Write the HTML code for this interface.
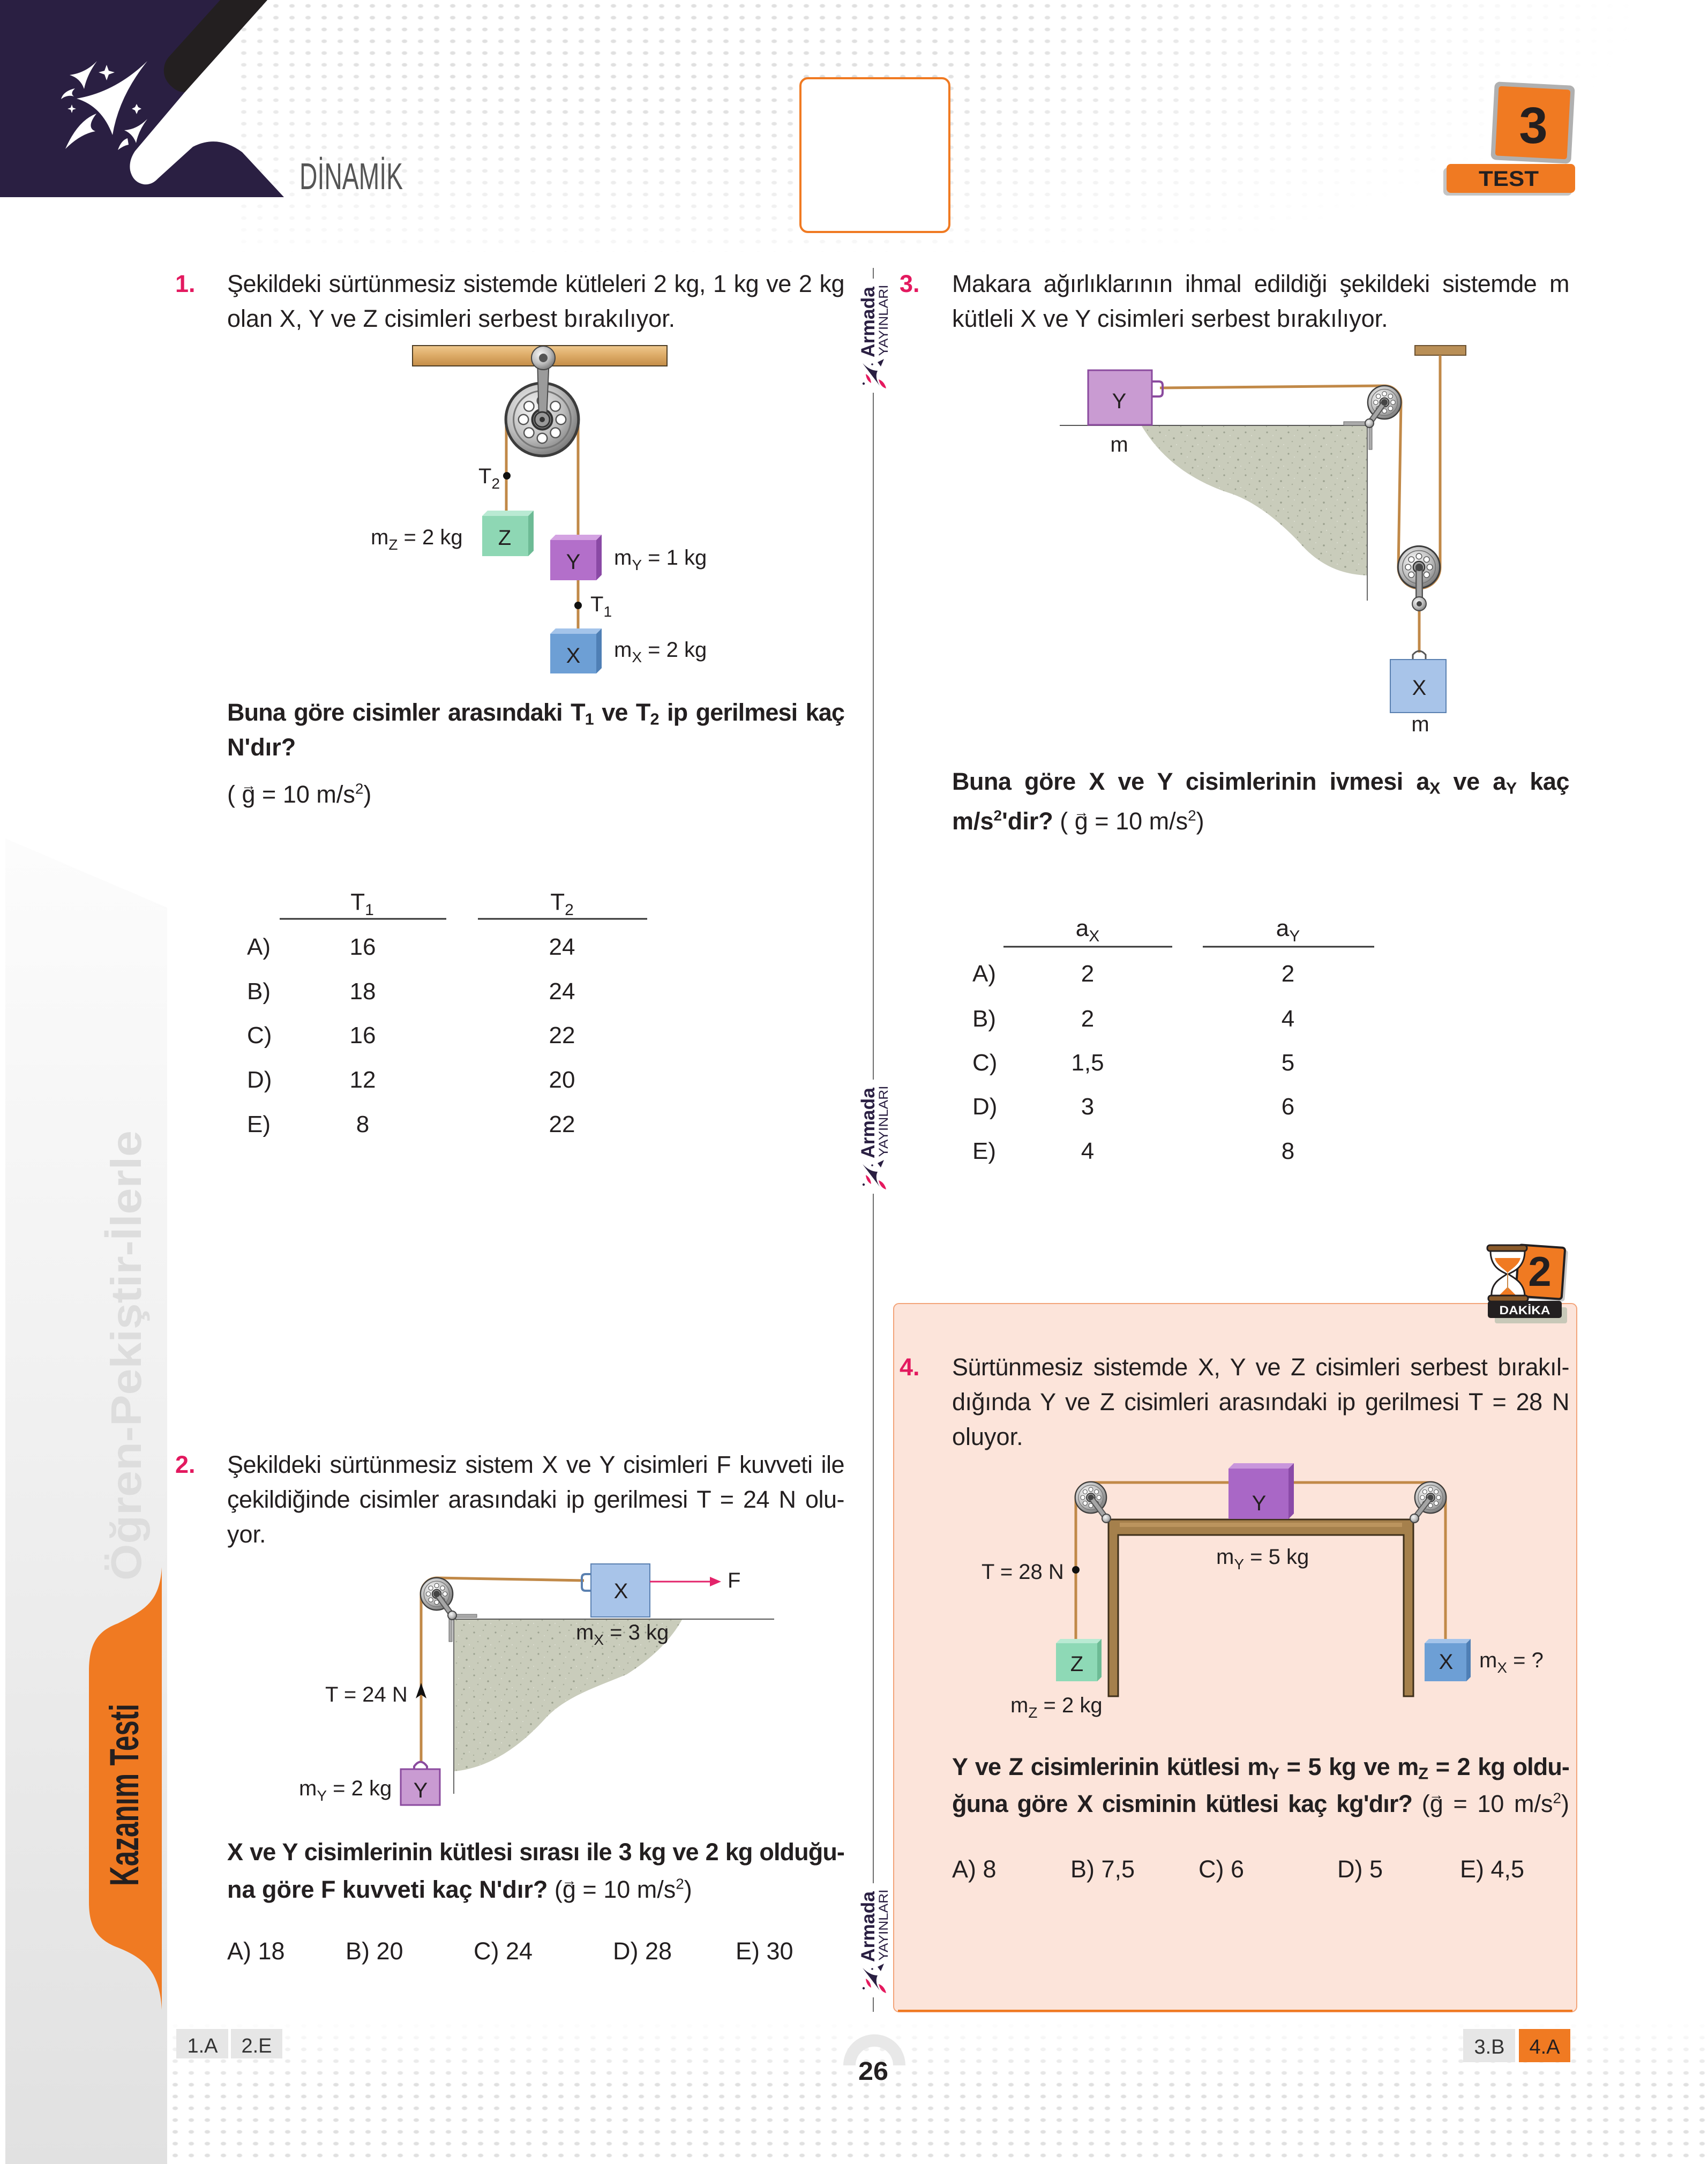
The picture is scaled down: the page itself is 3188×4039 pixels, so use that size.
<!DOCTYPE html>
<html><head><meta charset="utf-8">
<style>
html,body{margin:0;padding:0;background:#fff}
#p{position:relative;width:3188px;height:4039px;overflow:hidden;background:#fff;font-family:"Liberation Sans",sans-serif;color:#231f20}
.t{position:absolute;font-size:45px;line-height:65px;white-space:nowrap}
.j{width:1152px;text-align:justify;text-align-last:justify;white-space:normal;letter-spacing:-0.5px}
.b{font-weight:bold}
.bj{letter-spacing:-0.9px}
.n{color:#e3195f;font-weight:bold}
.r{font-weight:normal;letter-spacing:0}
sub{font-size:0.68em;vertical-align:-0.25em;line-height:0}
sup{font-size:0.62em;vertical-align:0.6em;line-height:0}
.vg{position:relative;display:inline-block}
.ar{position:absolute;left:-2px;right:-2px;top:2px;text-align:center;font-size:28px;line-height:28px;font-weight:normal;letter-spacing:0}
.dots{position:absolute;background-image:radial-gradient(ellipse 6px 4px at 50% 50%,#e0e0e0 65%,rgba(224,224,224,0) 100%);background-size:30px 22px}
svg{position:absolute;left:0;top:0}
</style></head><body><div id="p">
<div class="dots" style="left:440px;top:0;width:2748px;height:470px;-webkit-mask-image:radial-gradient(ellipse 1800px 560px at 30% 0%,#000 35%,transparent 100%);mask-image:radial-gradient(ellipse 1800px 560px at 30% 0%,#000 35%,transparent 100%)"></div>
<div class="dots" style="left:312px;top:3770px;width:2876px;height:269px;-webkit-mask-image:linear-gradient(to bottom,transparent,#000 45%);mask-image:linear-gradient(to bottom,transparent,#000 45%)"></div>

<svg width="3188" height="4039" viewBox="0 0 3188 4039" font-family="Liberation Sans, sans-serif">
<defs>
<radialGradient id="met" cx="0.38" cy="0.35" r="0.75"><stop offset="0" stop-color="#f6f6f6"/><stop offset="0.55" stop-color="#bdbdbd"/><stop offset="1" stop-color="#6a6a6a"/></radialGradient>
<linearGradient id="wood" x1="0" y1="0" x2="0" y2="1"><stop offset="0" stop-color="#f0c98e"/><stop offset="0.5" stop-color="#dcaa66"/><stop offset="1" stop-color="#c48d48"/></linearGradient>
<linearGradient id="side" x1="0" y1="0" x2="0" y2="1"><stop offset="0" stop-color="#fcfcfc"/><stop offset="1" stop-color="#e1e1e1"/></linearGradient>
<pattern id="spk" width="40" height="40" patternUnits="userSpaceOnUse">
<rect width="40" height="40" fill="#c9ccbb"/>
<circle cx="5" cy="7" r="1.6" fill="#9aa08e"/><circle cx="22" cy="3" r="1.2" fill="#a5aa98"/>
<circle cx="31" cy="18" r="1.8" fill="#9aa08e"/><circle cx="12" cy="24" r="1.3" fill="#a9ae9c"/>
<circle cx="26" cy="33" r="1.5" fill="#9aa08e"/><circle cx="4" cy="36" r="1.1" fill="#a5aa98"/>
<circle cx="16" cy="13" r="1" fill="#e0e2d6"/><circle cx="36" cy="30" r="1" fill="#e0e2d6"/>
</pattern>
<symbol id="pul" viewBox="-35 -35 70 70">
<circle r="33" fill="url(#met)" stroke="#3c3c3c" stroke-width="2.5"/>
<circle r="26" fill="none" stroke="#777" stroke-width="1.5"/>
<g fill="#fff" stroke="#555" stroke-width="1.2">
<circle cx="17" cy="0" r="4.5"/><circle cx="12" cy="12" r="4.5"/><circle cx="0" cy="17" r="4.5"/><circle cx="-12" cy="12" r="4.5"/>
<circle cx="-17" cy="0" r="4.5"/><circle cx="-12" cy="-12" r="4.5"/><circle cx="0" cy="-17" r="4.5"/><circle cx="12" cy="-12" r="4.5"/>
</g>
<circle r="9" fill="#a0a0a0" stroke="#333" stroke-width="2"/><circle r="4" fill="#444"/>
</symbol>
<symbol id="logo" viewBox="0 0 64 213">
<rect width="64" height="213" fill="#fff"/>
<text transform="translate(34,81) rotate(-90)" text-anchor="middle" font-size="35" font-weight="bold" fill="#2a1f42" textLength="132" lengthAdjust="spacingAndGlyphs">Armada</text>
<text transform="translate(59,78) rotate(-90)" text-anchor="middle" font-size="24" fill="#2a1f42" textLength="133" lengthAdjust="spacingAndGlyphs">YAYINLARI</text>
<path d="M12,158 L44,200 Q34,184 40,172 Q26,172 12,158 Z" fill="#2a1f42"/>
<path d="M42,188 Q53,192 56,205 Q45,202 42,188 Z" fill="#e5195e"/>
<path d="M18,178 Q27,183 28,195 Q19,190 18,178 Z" fill="#e5195e"/>
<path d="M40,156 L52,150 L46,164 Z" fill="#2a1f42"/>
<circle cx="14" cy="196" r="2.2" fill="#2a1f42"/><circle cx="30" cy="160" r="1.8" fill="#2a1f42"/>
</symbol>
</defs>

<!-- header left -->
<path d="M0,0 L499,0 L345,172 L252,282 Q240,300 243,318 Q248,340 268,344 Q283,346 295,333 L360,274 Q406,250 452,284 L530,368 L0,368 Z" fill="#2a1f42"/>
<path d="M411,0 L499,0 L345,172 Q332,172 322,163 Q304,148 306,128 Q307,114 318,103 Z" fill="#231f20"/>
<g fill="#fff">
<path d="M275,114 Q215,172 143,184 Q190,198 210,252 Q222,180 275,114 Z"/>
<path d="M181,114 Q160,136 130,140 Q150,146 157,166 Q162,140 181,114 Z"/>
<path d="M275,222 Q255,242 232,243 Q248,250 254,267 Q258,245 275,222 Z"/>
<path d="M199,121 L203,132 L214,135 L203,139 L199,150 L195,139 L184,135 L195,132 Z"/>
<path d="M134,195 L136,201 L142,203 L136,205 L134,211 L132,205 L126,203 L132,201 Z"/>
<path d="M255,194 L258,200 L264,203 L258,206 L255,213 L252,206 L246,203 L252,200 Z"/>
<path d="M140,165 Q118,170 114,185 Q126,176 138,180 Q130,174 140,165 Z"/>
<path d="M180,212 Q145,225 122,278 Q150,250 178,245 Q160,238 180,212 Z"/>
<path d="M238,258 Q226,262 220,280 Q230,272 240,270 Z"/>
</g>
<text x="559" y="353" font-size="70" fill="#555" textLength="193" lengthAdjust="spacingAndGlyphs">DİNAMİK</text>
<rect x="1494" y="146" width="278" height="287" rx="14" fill="#fff" stroke="#f07a22" stroke-width="4"/>

<!-- test badge -->
<g transform="rotate(3 2861 229)"><rect x="2786" y="156" width="150" height="146" rx="10" fill="#b0b0b0"/><rect x="2794" y="164" width="134" height="130" rx="5" fill="#f07a22"/></g>
<text x="2862" y="267" font-size="96" font-weight="bold" text-anchor="middle" fill="#231f20">3</text>
<rect x="2694" y="313" width="240" height="52" rx="8" fill="#c4c4c4"/>
<rect x="2700" y="306" width="240" height="54" rx="8" fill="#f07a22"/>
<text x="2816" y="347" font-size="40" font-weight="bold" text-anchor="middle" fill="#231f20" textLength="112" lengthAdjust="spacingAndGlyphs">TEST</text>

<!-- sidebar -->
<polygon points="10,1565 312,1694 312,4039 10,4039" fill="url(#side)"/>
<text transform="translate(263,2530) rotate(-90)" text-anchor="middle" font-size="80" font-weight="bold" fill="#dddddd" textLength="840" lengthAdjust="spacingAndGlyphs">Öğren-Pekiştir-İlerle</text>
<path d="M302,2925 C298,2990 270,3005 220,3030 C180,3045 166,3070 166,3120 L166,3550 C166,3595 180,3620 220,3635 C270,3655 298,3680 302,3751 Z" fill="#f07a22"/>
<text transform="translate(258,3350) rotate(-90)" text-anchor="middle" font-size="76" font-weight="bold" fill="#231f20" textLength="340" lengthAdjust="spacingAndGlyphs">Kazanım Testi</text>

<!-- divider & logos -->
<line x1="1630" y1="500" x2="1630" y2="3755" stroke="#6d6d6d" stroke-width="2"/>
<use href="#logo" x="1598" y="520" width="64" height="213"/>
<use href="#logo" x="1598" y="2015" width="64" height="213"/>
<use href="#logo" x="1598" y="3515" width="64" height="213"/>

<!-- Q1 diagram -->
<rect x="770" y="645" width="475" height="38" fill="url(#wood)" stroke="#4d3d25" stroke-width="2"/>
<path d="M945,957 L945,783 A67,67 0 0 1 1079,783 L1079,1005" fill="none" stroke="#c18948" stroke-width="5"/>
<line x1="1079" y1="1083" x2="1079" y2="1180" stroke="#c18948" stroke-width="5"/>
<use href="#pul" x="940" y="711" width="144" height="144"/>
<path d="M1003,668 L1025,668 L1020,783 L1006,783 Z" fill="#9b9b9b" stroke="#4a4a4a" stroke-width="2"/>
<circle cx="1014" cy="668" r="22" fill="url(#met)" stroke="#444" stroke-width="2"/>
<circle cx="1014" cy="668" r="8" fill="#555"/>
<circle cx="1012" cy="783" r="14" fill="#999" stroke="#333" stroke-width="3"/>
<circle cx="1012" cy="783" r="5" fill="#333"/>
<circle cx="946" cy="888" r="7" fill="#111"/>
<circle cx="1079" cy="1130" r="7" fill="#111"/>
<polygon points="900,963 910,953 996,953 986,963" fill="#b9ead3"/>
<polygon points="986,963 996,953 996,1028 986,1038" fill="#6dbb95"/>
<rect x="900" y="963" width="86" height="75" fill="#8ed7b4"/>
<polygon points="1027,1008 1037,998 1123,998 1113,1008" fill="#d4a3e2"/>
<polygon points="1113,1008 1123,998 1123,1073 1113,1083" fill="#8a49a5"/>
<rect x="1027" y="1008" width="86" height="75" fill="#b36fca"/>
<polygon points="1027,1183 1037,1173 1123,1173 1113,1183" fill="#a4c4ea"/>
<polygon points="1113,1183 1123,1173 1123,1247 1113,1257" fill="#4f7fb5"/>
<rect x="1027" y="1183" width="86" height="74" fill="#6d9fd5"/>
<g font-size="40" fill="#231f20">
<text x="893" y="902">T<tspan dy="10" font-size="28">2</tspan></text>
<text x="692" y="1016">m<tspan dy="10" font-size="28">Z</tspan><tspan dy="-10"> = 2 kg</tspan></text>
<text x="942" y="1017" text-anchor="middle">Z</text>
<text x="1070" y="1062" text-anchor="middle">Y</text>
<text x="1146" y="1054">m<tspan dy="10" font-size="28">Y</tspan><tspan dy="-10"> = 1 kg</tspan></text>
<text x="1102" y="1141">T<tspan dy="10" font-size="28">1</tspan></text>
<text x="1070" y="1237" text-anchor="middle">X</text>
<text x="1146" y="1226">m<tspan dy="10" font-size="28">X</tspan><tspan dy="-10"> = 2 kg</tspan></text>
</g>

<!-- Q1 table -->
<g font-size="44" fill="#231f20">
<text x="676" y="1698" text-anchor="middle">T<tspan dy="10" font-size="30">1</tspan></text>
<text x="1049" y="1698" text-anchor="middle">T<tspan dy="10" font-size="30">2</tspan></text>
<text x="461" y="1782">A)</text><text x="677" y="1782" text-anchor="middle">16</text><text x="1049" y="1782" text-anchor="middle">24</text>
<text x="461" y="1865">B)</text><text x="677" y="1865" text-anchor="middle">18</text><text x="1049" y="1865" text-anchor="middle">24</text>
<text x="461" y="1947">C)</text><text x="677" y="1947" text-anchor="middle">16</text><text x="1049" y="1947" text-anchor="middle">22</text>
<text x="461" y="2030">D)</text><text x="677" y="2030" text-anchor="middle">12</text><text x="1049" y="2030" text-anchor="middle">20</text>
<text x="461" y="2113">E)</text><text x="677" y="2113" text-anchor="middle">8</text><text x="1049" y="2113" text-anchor="middle">22</text>
</g>
<line x1="522" y1="1715" x2="833" y2="1715" stroke="#333" stroke-width="3"/>
<line x1="892" y1="1715" x2="1208" y2="1715" stroke="#333" stroke-width="3"/>

<!-- Q3 diagram -->
<path d="M2131,795 L2551,795 L2551,1074 C2500,1072 2462,1052 2432,1020 C2398,982 2350,940 2300,922 C2230,900 2170,860 2131,795 Z" fill="url(#spk)"/>
<line x1="1978" y1="794" x2="2554" y2="794" stroke="#555" stroke-width="2"/>
<line x1="2552" y1="794" x2="2552" y2="1121" stroke="#666" stroke-width="2"/>
<rect x="2641" y="645" width="95" height="18" fill="#b98f57" stroke="#6a5030" stroke-width="2"/>
<path d="M2165,724 L2584,720 A31,31 0 0 1 2615,751 L2610,1059 A39,39 0 0 0 2688,1059 L2688,663" fill="none" stroke="#c18948" stroke-width="5"/>
<line x1="2649" y1="1130" x2="2649" y2="1218" stroke="#c18948" stroke-width="5"/>
<rect x="2031" y="691" width="119" height="102" fill="#c99bd2" stroke="#8a4a9e" stroke-width="3"/>
<path d="M2150,712 L2163,712 Q2170,712 2170,719 L2170,733 Q2170,740 2163,740 L2150,740" fill="none" stroke="#8a4a9e" stroke-width="4"/>
<rect x="2508" y="787" width="48" height="7" fill="#aaa" stroke="#666" stroke-width="1"/>
<rect x="2555" y="794" width="6" height="45" fill="#aaa" stroke="#666" stroke-width="1"/>
<use href="#pul" x="2551" y="718" width="66" height="66"/>
<line x1="2584" y1="751" x2="2556" y2="790" stroke="#555" stroke-width="11" stroke-linecap="round"/>
<line x1="2584" y1="751" x2="2556" y2="790" stroke="#a5a5a5" stroke-width="7" stroke-linecap="round"/>
<circle cx="2556" cy="790" r="8" fill="url(#met)" stroke="#444" stroke-width="2"/>
<circle cx="2584" cy="751" r="6" fill="#444"/>
<use href="#pul" x="2607" y="1017" width="83" height="83"/>
<line x1="2649" y1="1059" x2="2649" y2="1125" stroke="#555" stroke-width="14" stroke-linecap="round"/>
<line x1="2649" y1="1059" x2="2649" y2="1125" stroke="#a5a5a5" stroke-width="9" stroke-linecap="round"/>
<circle cx="2649" cy="1127" r="13" fill="url(#met)" stroke="#444" stroke-width="2"/>
<circle cx="2649" cy="1127" r="5" fill="#444"/>
<circle cx="2649" cy="1059" r="7" fill="#444"/>
<path d="M2637,1233 L2637,1222 Q2649,1208 2661,1222 L2661,1233" fill="none" stroke="#555" stroke-width="3"/>
<rect x="2595" y="1231" width="104" height="99" fill="#a8c4e9" stroke="#5a80b0" stroke-width="2"/>
<g font-size="40" fill="#231f20" text-anchor="middle">
<text x="2089" y="762">Y</text>
<text x="2089" y="843">m</text>
<text x="2649" y="1297">X</text>
<text x="2651" y="1365">m</text>
</g>

<!-- Q3 table -->
<g font-size="44" fill="#231f20">
<text x="2030" y="1747" text-anchor="middle">a<tspan dy="10" font-size="30">X</tspan></text>
<text x="2404" y="1747" text-anchor="middle">a<tspan dy="10" font-size="30">Y</tspan></text>
<text x="1815" y="1832">A)</text><text x="2030" y="1832" text-anchor="middle">2</text><text x="2404" y="1832" text-anchor="middle">2</text>
<text x="1815" y="1916">B)</text><text x="2030" y="1916" text-anchor="middle">2</text><text x="2404" y="1916" text-anchor="middle">4</text>
<text x="1815" y="1998">C)</text><text x="2030" y="1998" text-anchor="middle">1,5</text><text x="2404" y="1998" text-anchor="middle">5</text>
<text x="1815" y="2080">D)</text><text x="2030" y="2080" text-anchor="middle">3</text><text x="2404" y="2080" text-anchor="middle">6</text>
<text x="1815" y="2163">E)</text><text x="2030" y="2163" text-anchor="middle">4</text><text x="2404" y="2163" text-anchor="middle">8</text>
</g>
<line x1="1873" y1="1767" x2="2188" y2="1767" stroke="#333" stroke-width="3"/>
<line x1="2245" y1="1767" x2="2565" y2="1767" stroke="#333" stroke-width="3"/>

<!-- Q2 diagram -->
<path d="M847,3023 L1273,3023 C1255,3055 1225,3090 1170,3125 C1110,3150 1060,3165 1020,3205 C980,3250 920,3300 847,3306 Z" fill="url(#spk)"/>
<line x1="844" y1="3022" x2="1445" y2="3022" stroke="#555" stroke-width="2"/>
<line x1="847" y1="3022" x2="847" y2="3348" stroke="#666" stroke-width="2"/>
<path d="M786,3290 L786,2975 A30,30 0 0 1 815,2945 L1090,2950" fill="none" stroke="#c18948" stroke-width="5"/>
<rect x="844" y="3013" width="46" height="6" fill="#aaa" stroke="#666" stroke-width="1"/>
<rect x="838" y="3018" width="6" height="46" fill="#aaa" stroke="#666" stroke-width="1"/>
<use href="#pul" x="783" y="2943" width="64" height="64"/>
<line x1="815" y1="2975" x2="844" y2="3015" stroke="#555" stroke-width="11" stroke-linecap="round"/>
<line x1="815" y1="2975" x2="844" y2="3015" stroke="#a5a5a5" stroke-width="7" stroke-linecap="round"/>
<circle cx="844" cy="3015" r="8" fill="url(#met)" stroke="#444" stroke-width="2"/>
<circle cx="815" cy="2975" r="6" fill="#444"/>
<path d="M1103,2938 L1093,2938 Q1086,2938 1086,2945 L1086,2962 Q1086,2969 1093,2969 L1103,2969" fill="none" stroke="#5a80b0" stroke-width="4"/>
<rect x="1103" y="2919" width="110" height="99" fill="#a8c4e9" stroke="#5a80b0" stroke-width="2"/>
<line x1="1213" y1="2952" x2="1330" y2="2952" stroke="#e3236a" stroke-width="3"/>
<polygon points="1346,2952 1325,2943 1325,2961" fill="#e3236a"/>
<polygon points="786,3141 776,3170 786,3163 796,3170" fill="#111"/>
<path d="M773,3303 L773,3297 Q785,3280 797,3297 L797,3303" fill="none" stroke="#8a4a9e" stroke-width="4"/>
<rect x="748" y="3302" width="73" height="67" fill="#c99bd2" stroke="#8a4a9e" stroke-width="3"/>
<g font-size="40" fill="#231f20">
<text x="1358" y="2963">F</text>
<text x="1159" y="2983" text-anchor="middle">X</text>
<text x="1075" y="3060">m<tspan dy="10" font-size="28">X</tspan><tspan dy="-10"> = 3 kg</tspan></text>
<text x="607" y="3176">T = 24 N</text>
<text x="558" y="3351">m<tspan dy="10" font-size="28">Y</tspan><tspan dy="-10"> = 2 kg</tspan></text>
<text x="785" y="3355" text-anchor="middle">Y</text>
</g>

<!-- Q4 box -->
<rect x="1668" y="2433" width="1275" height="1322" rx="10" fill="#fce4da" stroke="#f3a47a" stroke-width="2"/>
<path d="M1676,3753 H2935" stroke="#f07a22" stroke-width="4"/>
<!-- dakika -->
<rect x="2790" y="2440" width="135" height="30" rx="4" fill="#c8c8b8"/>
<g transform="rotate(4 2875 2374)"><rect x="2838" y="2330" width="86" height="96" rx="5" fill="#c8c8c8"/><rect x="2832" y="2326" width="86" height="96" rx="5" fill="#f07a22" stroke="#231f20" stroke-width="4"/></g>
<text x="2874" y="2400" font-size="78" font-weight="bold" text-anchor="middle" fill="#231f20">2</text>
<path d="M2782,2335 C2782,2370 2810,2375 2812,2378 C2810,2382 2782,2390 2784,2420 L2846,2420 C2846,2390 2818,2382 2816,2378 C2818,2375 2846,2370 2846,2335 Z" fill="#fff" stroke="#231f20" stroke-width="3"/>
<path d="M2790,2348 L2838,2348 C2835,2362 2818,2370 2814,2376 C2810,2370 2793,2362 2790,2348 Z" fill="#f07a22"/>
<path d="M2798,2418 L2830,2418 L2814,2402 Z" fill="#f07a22"/>
<line x1="2814" y1="2376" x2="2814" y2="2410" stroke="#c98a4a" stroke-width="2"/>
<rect x="2776" y="2324" width="74" height="11" rx="5" fill="#8a5a2a" stroke="#231f20" stroke-width="3"/>
<rect x="2778" y="2418" width="74" height="11" rx="5" fill="#8a5a2a" stroke="#231f20" stroke-width="3"/>
<rect x="2777" y="2428" width="138" height="32" rx="5" fill="#231f20"/>
<text x="2846" y="2453" font-size="22" font-weight="bold" text-anchor="middle" fill="#fff" textLength="95" lengthAdjust="spacingAndGlyphs">DAKİKA</text>

<!-- Q4 diagram -->
<path d="M2008,3060 L2008,2795 A28,28 0 0 1 2036,2767 L2293,2767" fill="none" stroke="#c18948" stroke-width="5"/>
<path d="M2415,2767 L2670,2767 A28,28 0 0 1 2698,2795 L2698,3060" fill="none" stroke="#c18948" stroke-width="5"/>
<path d="M2069,3166 V2836 H2638 V3166 H2620 V2865 H2087 V3166 Z" fill="#a5804c" stroke="#3e2f1a" stroke-width="3"/>
<rect x="2090" y="2842" width="527" height="8" fill="#c9a26a" opacity="0.6"/>
<use href="#pul" x="2005" y="2764" width="62" height="62"/>
<use href="#pul" x="2639" y="2764" width="62" height="62"/>
<line x1="2036" y1="2795" x2="2065" y2="2834" stroke="#555" stroke-width="11" stroke-linecap="round"/>
<line x1="2036" y1="2795" x2="2065" y2="2834" stroke="#a5a5a5" stroke-width="7" stroke-linecap="round"/>
<line x1="2670" y1="2795" x2="2640" y2="2834" stroke="#555" stroke-width="11" stroke-linecap="round"/>
<line x1="2670" y1="2795" x2="2640" y2="2834" stroke="#a5a5a5" stroke-width="7" stroke-linecap="round"/>
<circle cx="2065" cy="2834" r="8" fill="url(#met)" stroke="#444" stroke-width="2"/>
<circle cx="2640" cy="2834" r="8" fill="url(#met)" stroke="#444" stroke-width="2"/>
<circle cx="2036" cy="2795" r="5" fill="#444"/><circle cx="2670" cy="2795" r="5" fill="#444"/>
<polygon points="2293,2741 2303,2731 2415,2731 2405,2741" fill="#c996dc"/>
<polygon points="2405,2741 2415,2731 2415,2825 2405,2835" fill="#8a4aa8"/>
<rect x="2293" y="2741" width="112" height="94" fill="#a967c6"/>
<circle cx="2008" cy="2930" r="7" fill="#111"/>
<polygon points="1971,3067 1979,3059 2056,3059 2048,3067" fill="#b9ead3"/>
<polygon points="2048,3067 2056,3059 2056,3130 2048,3138" fill="#6dbb95"/>
<rect x="1971" y="3067" width="77" height="71" fill="#8ed9b6"/>
<polygon points="2659,3067 2667,3059 2745,3059 2737,3067" fill="#a4c4ea"/>
<polygon points="2737,3067 2745,3059 2745,3130 2737,3138" fill="#4f7fb5"/>
<rect x="2659" y="3067" width="78" height="71" fill="#6d9fd5"/>
<g font-size="40" fill="#231f20">
<text x="2350" y="2819" text-anchor="middle">Y</text>
<text x="1832" y="2947">T = 28 N</text>
<text x="2270" y="2919">m<tspan dy="10" font-size="28">Y</tspan><tspan dy="-10"> = 5 kg</tspan></text>
<text x="2010" y="3119" text-anchor="middle">Z</text>
<text x="2699" y="3115" text-anchor="middle">X</text>
<text x="2761" y="3112">m<tspan dy="10" font-size="28">X</tspan><tspan dy="-10"> = ?</tspan></text>
<text x="1886" y="3196">m<tspan dy="10" font-size="28">Z</tspan><tspan dy="-10"> = 2 kg</tspan></text>
</g>

<!-- footer -->
<rect x="329" y="3787" width="97" height="55" fill="#e6e6e6"/>
<rect x="431" y="3787" width="96" height="55" fill="#e6e6e6"/>
<rect x="2731" y="3787" width="97" height="62" fill="#e6e6e6"/>
<rect x="2835" y="3787" width="96" height="62" fill="#f07a22"/>
<g font-size="38" fill="#333" text-anchor="middle">
<text x="378" y="3831">1.A</text>
<text x="479" y="3831">2.E</text>
<text x="2780" y="3833">3.B</text>
<text x="2883" y="3833" fill="#231f20">4.A</text>
</g>
<path d="M1574,3855 A58,58 0 0 1 1690,3855 L1667,3855 A35,35 0 0 0 1597,3855 Z" fill="#e8e8e8"/>
<text x="1630" y="3882" font-size="48" font-weight="bold" text-anchor="middle" fill="#231f20" textLength="56" lengthAdjust="spacingAndGlyphs">26</text>
</svg>

<!-- Q1 text -->
<div class="t n" style="left:327px;top:497px">1.</div>
<div class="t j" style="left:424px;top:497px">Şekildeki sürtünmesiz sistemde kütleleri 2 kg, 1 kg ve 2 kg</div>
<div class="t" style="left:424px;top:562px">olan X, Y ve Z cisimleri serbest bırakılıyor.</div>
<div class="t j b bj" style="left:424px;top:1297px">Buna göre cisimler arasındaki T<sub>1</sub> ve T<sub>2</sub> ip gerilmesi kaç</div>
<div class="t b" style="left:424px;top:1362px">N'dır?</div>
<div class="t" style="left:424px;top:1450px">( <span class="vg">g<span class="ar">→</span></span> = 10 m/s<sup>2</sup>)</div>

<!-- Q2 text -->
<div class="t n" style="left:327px;top:2701px">2.</div>
<div class="t j" style="left:424px;top:2701px">Şekildeki sürtünmesiz sistem X ve Y cisimleri F kuvveti ile</div>
<div class="t j" style="left:424px;top:2766px">çekildiğinde cisimler arasındaki ip gerilmesi T = 24 N olu-</div>
<div class="t" style="left:424px;top:2831px">yor.</div>
<div class="t j b bj" style="left:424px;top:3424px">X ve Y cisimlerinin kütlesi sırası ile 3 kg ve 2 kg olduğu-</div>
<div class="t b" style="left:424px;top:3494px">na göre F kuvveti kaç N'dır? <span class="r">(<span class="vg">g<span class="ar">→</span></span> = 10 m/s<sup>2</sup>)</span></div>
<div class="t" style="left:424px;top:3609px">A) 18</div>
<div class="t" style="left:645px;top:3609px">B) 20</div>
<div class="t" style="left:884px;top:3609px">C) 24</div>
<div class="t" style="left:1144px;top:3609px">D) 28</div>
<div class="t" style="left:1373px;top:3609px">E) 30</div>

<!-- Q3 text -->
<div class="t n" style="left:1679px;top:497px">3.</div>
<div class="t j" style="left:1777px;top:497px">Makara ağırlıklarının ihmal edildiği şekildeki sistemde m</div>
<div class="t" style="left:1777px;top:562px">kütleli X ve Y cisimleri serbest bırakılıyor.</div>
<div class="t j b" style="left:1777px;top:1426px">Buna göre X ve Y cisimlerinin ivmesi a<sub>X</sub> ve a<sub>Y</sub> kaç</div>
<div class="t b" style="left:1777px;top:1500px">m/s<sup>2</sup>'dir? <span class="r">( <span class="vg">g<span class="ar">→</span></span> = 10 m/s<sup>2</sup>)</span></div>

<!-- Q4 text -->
<div class="t n" style="left:1679px;top:2519px">4.</div>
<div class="t j" style="left:1777px;top:2519px">Sürtünmesiz sistemde X, Y ve Z cisimleri serbest bırakıl-</div>
<div class="t j" style="left:1777px;top:2584px">dığında Y ve Z cisimleri arasındaki ip gerilmesi T = 28 N</div>
<div class="t" style="left:1777px;top:2649px">oluyor.</div>
<div class="t j b bj" style="left:1777px;top:3265px">Y ve Z cisimlerinin kütlesi m<sub>Y</sub> = 5 kg ve m<sub>Z</sub> = 2 kg oldu-</div>
<div class="t j b bj" style="left:1777px;top:3334px">ğuna göre X cisminin kütlesi kaç kg'dır? <span class="r">(<span class="vg">g<span class="ar">→</span></span> = 10 m/s<sup>2</sup>)</span></div>
<div class="t" style="left:1777px;top:3456px">A) 8</div>
<div class="t" style="left:1998px;top:3456px">B) 7,5</div>
<div class="t" style="left:2237px;top:3456px">C) 6</div>
<div class="t" style="left:2496px;top:3456px">D) 5</div>
<div class="t" style="left:2725px;top:3456px">E) 4,5</div>
</div></body></html>
